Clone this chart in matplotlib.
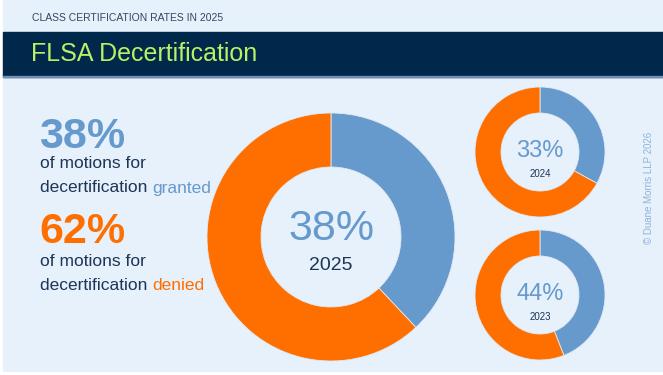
import matplotlib
matplotlib.use('Agg')
import matplotlib.pyplot as plt
from matplotlib.patches import Rectangle

# data
years = ['2025', '2024', '2023']
granted = [38, 33, 44]
denied = [62, 67, 56]

BLUE = '#6699cc'; ORANGE = '#ff6f00'; NAVY = '#00284a'
BG = '#e6f1fc'; TXT = '#1d3557'; GREEN = '#b8f067'

plt.rcParams['font.family'] = ['Liberation Sans', 'DejaVu Sans']

W, H = 663, 375
fig = plt.figure(figsize=(6.63, 3.75), dpi=100, facecolor='white')
ax = fig.add_axes([0, 0, 1, 1])

def Y(y):  # pixel row -> data y
    return H - y

# background + header
ax.add_patch(Rectangle((3, Y(371)), W - 3, 371, color=BG, zorder=0))
ax.add_patch(Rectangle((3, Y(77)), W - 3, 45, color=NAVY, zorder=1))
ax.add_patch(Rectangle((3, Y(77)), W - 3, 1.5, color='#6f8fb3', zorder=2))
ax.text(32, Y(18), 'CLASS CERTIFICATION RATES IN 2025', fontsize=7.5, color='#33475f',
        va='center', ha='left')
ax.text(31, Y(54), 'FLSA Decertification', fontsize=18, color=GREEN, va='center', ha='left')

# donuts: (center x, center y, outer r, ring width)
spots = [(331, 237, 124, 54), (540, 152, 65, 26), (540, 295, 65, 26)]
for (cx, cy, r, w), g, d in zip(spots, granted, denied):
    ax.pie([g, d], colors=[BLUE, ORANGE], startangle=90, counterclock=False,
           center=(cx, Y(cy)), radius=r, frame=True,
           wedgeprops=dict(width=w, edgecolor='#dfe9f4', linewidth=0.6))

# labels inside donuts
ax.text(331, Y(229), f'{granted[0]}%', fontsize=31, color=BLUE, ha='center', va='center')
ax.text(331, Y(266), years[0], fontsize=14, color=TXT, ha='center', va='center')
for (cx, cy, r, w), g, yr in zip(spots[1:], granted[1:], years[1:]):
    ax.text(cx, Y(cy - 1), f'{g}%', fontsize=17, color=BLUE, ha='center', va='center')
    ax.text(cx, Y(cy + 22), yr, fontsize=7, color=TXT, ha='center', va='center')

# left side summary
ax.text(39, Y(137), f'{granted[0]}%', fontsize=31, fontweight='bold', color=BLUE, va='center')
ax.text(40, Y(163), 'of motions for', fontsize=12.5, color=TXT, va='center')
t = ax.text(40, Y(188), 'decertification ', fontsize=12.5, color=TXT, va='center')
ax.annotate('granted', xycoords=t, xy=(1, 0.5), va='center', fontsize=12.5, color=BLUE)
ax.text(39, Y(232), f'{denied[0]}%', fontsize=31, fontweight='bold', color=ORANGE, va='center')
ax.text(40, Y(261), 'of motions for', fontsize=12.5, color=TXT, va='center')
t2 = ax.text(40, Y(285), 'decertification ', fontsize=12.5, color=TXT, va='center')
ax.annotate('denied', xycoords=t2, xy=(1, 0.5), va='center', fontsize=12.5, color=ORANGE)

ax.text(649, Y(188), '\u00a9 Duane Morris LLP 2026', fontsize=7, color='#8fb3da',
        rotation=90, ha='center', va='center')

ax.set_xlim(0, W); ax.set_ylim(0, H)
ax.set_aspect('auto')
ax.axis('off')
fig.savefig('out.png', dpi=100, facecolor='white')
